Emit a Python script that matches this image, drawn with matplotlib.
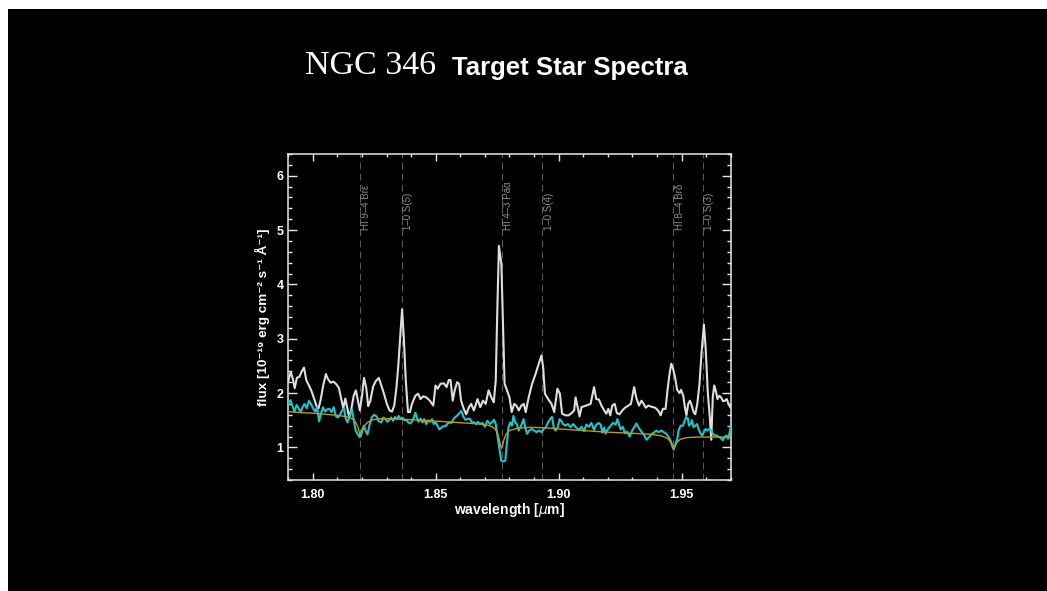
import matplotlib
matplotlib.use('Agg')
import matplotlib.pyplot as plt
import matplotlib.transforms as mtransforms
from matplotlib.patches import Rectangle
from matplotlib.ticker import MultipleLocator
import numpy as np

TITLE_OBJECT = 'NGC 346'
TITLE_REST = 'Target Star Spectra'
XLABEL = r'wavelength [$\mu$m]'
YLABEL = 'flux [10⁻¹⁹ erg cm⁻² s⁻¹ Å⁻¹]'

# line identifications (wavelength in micron, label)
LINE_WAVES = [1.8190, 1.8361, 1.8769, 1.8934, 1.9467, 1.9587]
LINE_NAMES = ['HI 9–4 Brε', '1–0 S(5)', 'HI 4–3 Paα', '1–0 S(4)',
              'HI 8–4 Brδ', '1–0 S(3)']

# observed spectrum (white)
OBSERVED = [
    (1.7900, 2.22), (1.7910, 2.39), (1.7919, 2.25), (1.7926, 2.09), (1.7935, 2.28),
    (1.7945, 2.30), (1.7955, 2.40), (1.7964, 2.47), (1.7973, 2.24), (1.7984, 2.14),
    (1.7995, 2.03), (1.8006, 1.88), (1.8015, 1.76), (1.8023, 1.72), (1.8031, 1.86),
    (1.8042, 2.14), (1.8053, 2.35), (1.8061, 2.26), (1.8072, 2.19), (1.8084, 2.21),
    (1.8096, 2.16), (1.8106, 2.09), (1.8115, 1.90), (1.8124, 1.72), (1.8132, 1.90),
    (1.8141, 1.70), (1.8148, 1.55), (1.8157, 1.72), (1.8166, 1.95), (1.8175, 2.05),
    (1.8183, 1.86), (1.8191, 1.68), (1.8200, 1.95), (1.8208, 2.28), (1.8217, 2.10),
    (1.8225, 1.76), (1.8234, 1.86), (1.8245, 2.12), (1.8256, 2.22), (1.8268, 2.28),
    (1.8280, 2.12), (1.8291, 1.96), (1.8301, 1.80), (1.8312, 1.68), (1.8322, 1.66),
    (1.8331, 1.77), (1.8340, 2.10), (1.8348, 2.53), (1.8355, 3.02), (1.8363, 3.54),
    (1.8370, 3.02), (1.8378, 2.23), (1.8387, 1.65), (1.8395, 1.65), (1.8403, 1.80),
    (1.8417, 1.95), (1.8428, 1.99), (1.8438, 1.89), (1.8449, 1.94), (1.8462, 1.92),
    (1.8476, 1.86), (1.8490, 1.77), (1.8499, 2.14), (1.8508, 2.08), (1.8519, 2.17),
    (1.8533, 2.18), (1.8544, 2.11), (1.8553, 2.24), (1.8560, 2.24), (1.8569, 1.86),
    (1.8577, 2.05), (1.8587, 2.20), (1.8595, 2.17), (1.8603, 1.86), (1.8614, 1.71),
    (1.8624, 1.61), (1.8635, 1.74), (1.8644, 1.80), (1.8655, 1.68), (1.8670, 1.89),
    (1.8681, 1.74), (1.8692, 1.86), (1.8703, 1.80), (1.8715, 2.05), (1.8726, 1.92),
    (1.8736, 1.83), (1.8744, 2.23), (1.8750, 3.45), (1.8757, 4.71), (1.8767, 4.37),
    (1.8774, 3.15), (1.8780, 2.17), (1.8790, 2.05), (1.8800, 1.92), (1.8809, 1.65),
    (1.8819, 1.80), (1.8828, 1.77), (1.8838, 1.68), (1.8848, 1.77), (1.8858, 1.80),
    (1.8866, 1.65), (1.8878, 1.92), (1.8892, 2.17), (1.8906, 2.35), (1.8919, 2.54),
    (1.8930, 2.69), (1.8937, 2.47), (1.8944, 1.99), (1.8957, 1.89), (1.8971, 1.80),
    (1.8982, 1.65), (1.8995, 2.08), (1.9005, 1.99), (1.9014, 1.62), (1.9028, 1.59),
    (1.9041, 1.59), (1.9052, 1.63), (1.9063, 1.68), (1.9069, 1.92), (1.9085, 1.57),
    (1.9093, 1.74), (1.9112, 1.77), (1.9130, 1.80), (1.9144, 2.11), (1.9153, 1.89),
    (1.9164, 1.88), (1.9174, 1.77), (1.9184, 1.69), (1.9194, 1.62), (1.9202, 1.71),
    (1.9210, 1.59), (1.9218, 1.77), (1.9228, 1.80), (1.9237, 1.63), (1.9248, 1.61),
    (1.9259, 1.68), (1.9270, 1.73), (1.9284, 1.77), (1.9294, 1.80), (1.9307, 2.11),
    (1.9316, 1.91), (1.9327, 1.77), (1.9337, 1.86), (1.9346, 1.80), (1.9354, 1.73),
    (1.9365, 1.77), (1.9376, 1.75), (1.9393, 1.73), (1.9406, 1.67), (1.9415, 1.59),
    (1.9424, 1.71), (1.9435, 1.71), (1.9443, 2.06), (1.9451, 2.35), (1.9458, 2.54),
    (1.9466, 2.44), (1.9474, 2.28), (1.9482, 2.06), (1.9492, 2.00), (1.9498, 2.06),
    (1.9507, 1.95), (1.9514, 1.73), (1.9520, 1.59), (1.9527, 1.80), (1.9534, 1.86),
    (1.9540, 1.79), (1.9549, 1.65), (1.9556, 1.61), (1.9564, 1.80), (1.9573, 2.17),
    (1.9581, 2.72), (1.9591, 3.26), (1.9598, 2.84), (1.9607, 1.99), (1.9615, 1.56),
    (1.9621, 1.14), (1.9627, 1.92), (1.9633, 2.14), (1.9640, 2.03), (1.9646, 1.89),
    (1.9653, 1.95), (1.9661, 1.92), (1.9669, 1.85), (1.9677, 1.86), (1.9684, 1.89),
    (1.9692, 1.79), (1.9700, 1.73),
]

# continuum-subtracted stellar spectrum (cyan)
STELLAR = [
    (1.7900, 1.80), (1.7909, 1.87), (1.7917, 1.76), (1.7925, 1.66), (1.7934, 1.78),
    (1.7942, 1.72), (1.7950, 1.65), (1.7958, 1.74), (1.7966, 1.80), (1.7975, 1.72),
    (1.7984, 1.86), (1.7992, 1.80), (1.8000, 1.73), (1.8009, 1.66), (1.8017, 1.74),
    (1.8025, 1.48), (1.8033, 1.62), (1.8041, 1.74), (1.8050, 1.66), (1.8058, 1.70),
    (1.8067, 1.71), (1.8076, 1.65), (1.8085, 1.74), (1.8093, 1.58), (1.8102, 1.55),
    (1.8110, 1.60), (1.8119, 1.68), (1.8127, 1.71), (1.8134, 1.52), (1.8141, 1.46),
    (1.8150, 1.58), (1.8159, 1.70), (1.8166, 1.52), (1.8173, 1.33), (1.8181, 1.25),
    (1.8190, 1.19), (1.8199, 1.30), (1.8208, 1.40), (1.8215, 1.30), (1.8222, 1.24),
    (1.8231, 1.42), (1.8240, 1.56), (1.8250, 1.60), (1.8259, 1.57), (1.8268, 1.48),
    (1.8278, 1.46), (1.8287, 1.55), (1.8296, 1.52), (1.8303, 1.47), (1.8310, 1.50),
    (1.8318, 1.55), (1.8326, 1.49), (1.8334, 1.56), (1.8341, 1.52), (1.8349, 1.58),
    (1.8356, 1.52), (1.8364, 1.55), (1.8372, 1.50), (1.8380, 1.51), (1.8388, 1.46),
    (1.8396, 1.44), (1.8404, 1.48), (1.8411, 1.55), (1.8417, 1.64), (1.8423, 1.55),
    (1.8430, 1.47), (1.8438, 1.53), (1.8446, 1.46), (1.8453, 1.52), (1.8461, 1.43),
    (1.8469, 1.50), (1.8477, 1.47), (1.8485, 1.52), (1.8492, 1.43), (1.8500, 1.46),
    (1.8507, 1.40), (1.8514, 1.33), (1.8522, 1.36), (1.8531, 1.39), (1.8540, 1.39),
    (1.8548, 1.44), (1.8557, 1.46), (1.8564, 1.45), (1.8572, 1.52), (1.8580, 1.56),
    (1.8588, 1.59), (1.8596, 1.63), (1.8604, 1.67), (1.8612, 1.57), (1.8620, 1.51),
    (1.8629, 1.52), (1.8638, 1.53), (1.8647, 1.46), (1.8656, 1.46), (1.8664, 1.43),
    (1.8672, 1.47), (1.8680, 1.43), (1.8690, 1.45), (1.8700, 1.38), (1.8710, 1.49),
    (1.8720, 1.43), (1.8728, 1.46), (1.8737, 1.51), (1.8744, 1.43), (1.8752, 1.19),
    (1.8760, 0.95), (1.8766, 0.76), (1.8775, 0.74), (1.8783, 0.76), (1.8789, 1.06),
    (1.8796, 1.37), (1.8803, 1.46), (1.8810, 1.40), (1.8816, 1.58), (1.8823, 1.46),
    (1.8830, 1.43), (1.8837, 1.31), (1.8844, 1.37), (1.8850, 1.43), (1.8857, 1.52),
    (1.8864, 1.37), (1.8871, 1.25), (1.8880, 1.31), (1.8890, 1.34), (1.8900, 1.31),
    (1.8910, 1.28), (1.8920, 1.31), (1.8930, 1.28), (1.8939, 1.34), (1.8948, 1.37),
    (1.8957, 1.46), (1.8965, 1.52), (1.8973, 1.56), (1.8980, 1.37), (1.8987, 1.31),
    (1.8996, 1.37), (1.9004, 1.52), (1.9010, 1.49), (1.9018, 1.43), (1.9028, 1.40),
    (1.9038, 1.43), (1.9048, 1.37), (1.9059, 1.43), (1.9072, 1.36), (1.9083, 1.32),
    (1.9093, 1.38), (1.9103, 1.30), (1.9113, 1.42), (1.9123, 1.38), (1.9133, 1.45),
    (1.9144, 1.32), (1.9150, 1.40), (1.9162, 1.45), (1.9171, 1.42), (1.9178, 1.27),
    (1.9185, 1.37), (1.9191, 1.25), (1.9201, 1.34), (1.9212, 1.40), (1.9221, 1.45),
    (1.9232, 1.42), (1.9239, 1.52), (1.9246, 1.42), (1.9252, 1.33), (1.9261, 1.38),
    (1.9270, 1.26), (1.9279, 1.29), (1.9289, 1.20), (1.9300, 1.32), (1.9309, 1.38),
    (1.9316, 1.44), (1.9327, 1.35), (1.9337, 1.29), (1.9347, 1.23), (1.9357, 1.14),
    (1.9368, 1.19), (1.9379, 1.25), (1.9387, 1.27), (1.9397, 1.31), (1.9406, 1.28),
    (1.9417, 1.31), (1.9428, 1.28), (1.9438, 1.25), (1.9447, 1.19), (1.9455, 1.13),
    (1.9462, 1.04), (1.9468, 0.96), (1.9474, 1.04), (1.9483, 1.16), (1.9488, 1.31),
    (1.9496, 1.40), (1.9506, 1.40), (1.9512, 1.48), (1.9519, 1.56), (1.9526, 1.53),
    (1.9530, 1.40), (1.9537, 1.43), (1.9542, 1.50), (1.9549, 1.37), (1.9556, 1.40),
    (1.9563, 1.43), (1.9569, 1.34), (1.9578, 1.25), (1.9583, 1.22), (1.9591, 1.28),
    (1.9598, 1.34), (1.9605, 1.31), (1.9614, 1.34), (1.9621, 1.31), (1.9628, 1.25),
    (1.9635, 1.22), (1.9641, 1.22), (1.9648, 1.20), (1.9655, 1.19), (1.9662, 1.16),
    (1.9668, 1.13), (1.9675, 1.19), (1.9682, 1.22), (1.9689, 1.16), (1.9696, 1.28),
    (1.9700, 1.38),
]

# model photosphere (yellow)
MODEL = [
    (1.7900, 1.66), (1.7950, 1.64), (1.8000, 1.63), (1.8050, 1.61), (1.8100, 1.59),
    (1.8130, 1.57), (1.8150, 1.55), (1.8165, 1.51), (1.8175, 1.46), (1.8183, 1.38),
    (1.8188, 1.30), (1.8192, 1.22), (1.8195, 1.19), (1.8199, 1.24), (1.8204, 1.33),
    (1.8212, 1.41), (1.8225, 1.47), (1.8245, 1.51), (1.8280, 1.53), (1.8400, 1.51),
    (1.8550, 1.47), (1.8680, 1.43), (1.8710, 1.41), (1.8730, 1.38), (1.8743, 1.33),
    (1.8752, 1.25), (1.8759, 1.13), (1.8764, 1.03), (1.8768, 0.98), (1.8772, 1.04),
    (1.8778, 1.15), (1.8786, 1.24), (1.8800, 1.31), (1.8830, 1.35), (1.8880, 1.37),
    (1.8950, 1.36), (1.9000, 1.34), (1.9100, 1.31), (1.9200, 1.28), (1.9300, 1.26),
    (1.9380, 1.24), (1.9420, 1.21), (1.9445, 1.16), (1.9456, 1.09), (1.9463, 1.01),
    (1.9468, 0.97), (1.9473, 1.02), (1.9481, 1.09), (1.9495, 1.15), (1.9520, 1.18),
    (1.9560, 1.19), (1.9620, 1.19), (1.9700, 1.19),
]

FG = '#e6e6e6'
W, H, DPI = 1047, 591, 100


def draw_spectra(path):
    """Observed, stellar and model spectra with line identifications"""
    plt.rcParams['font.family'] = ['Liberation Sans', 'DejaVu Sans']
    fig = plt.figure(figsize=(W / DPI, H / DPI), dpi=DPI, facecolor='white')
    # black slide area, leaving a thin white strip on top and left
    fig.add_artist(Rectangle((8 / W, 0), 1, 1 - 9 / H, transform=fig.transFigure,
                             facecolor='black', edgecolor='none', zorder=-5))

    fig.text(305 / W, 1 - 74.5 / H, TITLE_OBJECT, color='white', fontsize=24.5,
             family=['Liberation Serif', 'DejaVu Serif'], ha='left', va='baseline')
    fig.text(452 / W, 1 - 74.5 / H, TITLE_REST, color='white', fontsize=18.5,
             fontweight='bold', ha='left', va='baseline')

    ax = fig.add_axes([288.3 / W, 1 - 480 / H, 442.4 / W, 326 / H])
    ax.set_facecolor('black')
    ax.set_xlim(1.79, 1.97)
    ax.set_ylim(0.4, 6.4)

    for w in LINE_WAVES:
        ax.axvline(w, color='#5a5a5a', lw=0.8, ls=(0, (6, 4)), zorder=1)
    offset = mtransforms.offset_copy(ax.transData, fig=fig, x=1.5, y=0, units='dots')
    for w, name in zip(LINE_WAVES, LINE_NAMES):
        ax.text(w, 5.0, name, transform=offset, rotation=90, color='#8c8c8c',
                fontsize=7, ha='left', va='bottom')

    obs = np.array(OBSERVED).T
    star = np.array(STELLAR).T
    model = np.array(MODEL).T
    ax.plot(obs[0], obs[1], color='#dedede', lw=1.5, zorder=3)
    ax.plot(star[0], star[1], color='#22c3cb', lw=1.5, zorder=4)
    ax.plot(model[0], model[1], color='#b79c18', lw=1.0, zorder=5)

    for s in ax.spines.values():
        s.set_color(FG)
        s.set_linewidth(1.1)
    ax.xaxis.set_major_locator(MultipleLocator(0.05))
    ax.xaxis.set_minor_locator(MultipleLocator(0.01))
    ax.yaxis.set_major_locator(MultipleLocator(1))
    ax.yaxis.set_minor_locator(MultipleLocator(0.2))
    ax.xaxis.set_major_formatter(plt.FuncFormatter(lambda v, p: '%.2f' % v))
    ax.yaxis.set_major_formatter(plt.FuncFormatter(lambda v, p: '%d' % round(v)))
    ax.tick_params(which='both', direction='in', top=True, right=True,
                   color=FG, labelcolor='white', width=1.0, labelsize=9)
    ax.xaxis.set_tick_params(which='major', length=4.7, pad=6.5)
    ax.xaxis.set_tick_params(which='minor', length=2.4)
    ax.yaxis.set_tick_params(which='major', length=6.4, pad=3.5)
    ax.yaxis.set_tick_params(which='minor', length=3.2)
    for lab in ax.get_xticklabels() + ax.get_yticklabels():
        lab.set_fontweight('bold')

    ax.text(0.5, -0.092, XLABEL, transform=ax.transAxes, color='white',
            fontsize=10, fontweight='bold', ha='center', va='center')
    ax.text(-0.0594, 0.5, YLABEL, transform=ax.transAxes, color='white',
            fontsize=9.7, fontweight='bold', rotation=90, ha='center', va='center')

    fig.savefig(path, dpi=DPI, facecolor=fig.get_facecolor())
    plt.close(fig)


draw_spectra('out.png')
